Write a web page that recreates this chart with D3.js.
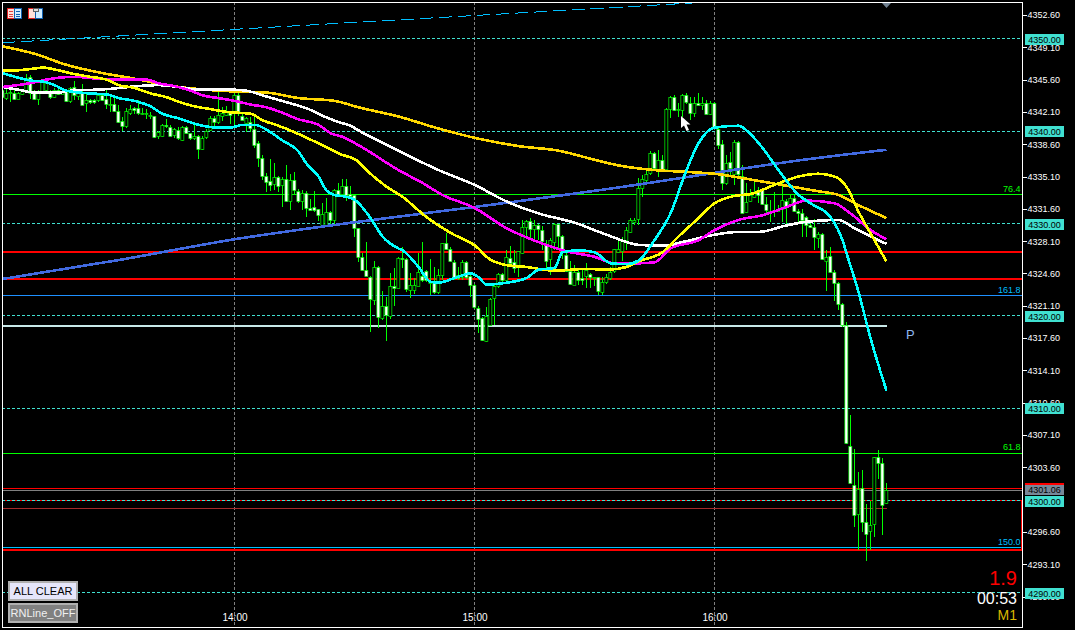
<!DOCTYPE html>
<html>
<head>
<meta charset="utf-8">
<title>M1 chart</title>
<script src="https://cdn.jsdelivr.net/npm/d3@7"></script>
<style>
  html, body { margin: 0; padding: 0; background: #000; }
  svg { display: block; }
  text { font-family: "Liberation Sans", Arial, sans-serif; }
</style>
</head>
<body>
<div id="chart"></div>
<script>
'use strict';

// one candle per minute, bar 0 = 13:02
const opens = [
  4344.5,4343.7,4344.2,4344.2,4343.5,4344.1,4344.5,4345.9,4344.4,4343.5,
  4344.3,4344.4,4344.4,4343.7,4344.5,4344.1,4344.3,4343.3,4344.8,4343.9,
  4344.2,4343.1,4343.4,4343.4,4343.4,4343.9,4343.5,4343.0,4343.0,4342.2,
  4341.1,4340.6,4342.0,4342.5,4342.5,4342.0,4342.0,4341.8,4341.7,4339.5,
  4339.5,4340.7,4340.5,4339.5,4340.1,4339.1,4340.5,4339.8,4339.3,4339.5,
  4338.1,4339.3,4340.1,4341.4,4341.0,4341.7,4341.8,4342.1,4342.1,4343.9,
  4341.7,4340.9,4341.0,4340.3,4338.7,4337.1,4335.2,4334.6,4334.2,4335.0,
  4334.1,4334.8,4332.4,4334.7,4333.5,4332.4,4333.3,4331.7,4331.8,4331.6,
  4329.8,4329.8,4331.3,4330.3,4333.6,4333.2,4334.1,4333.2,4333.1,4329.5,
  4326.4,4325.0,4324.2,4321.7,4325.3,4319.8,4321.1,4319.9,4323.2,4323.1,
  4326.3,4326.2,4322.9,4322.9,4323.3,4324.3,4324.9,4323.7,4323.6,4322.6,
  4324.4,4327.9,4327.2,4325.8,4324.4,4324.2,4325.8,4324.3,4323.3,4320.9,
  4319.8,4317.3,4319.0,4321.9,4323.2,4324.5,4323.9,4326.3,4325.8,4325.5,
  4326.8,4329.6,4330.3,4329.4,4329.8,4329.3,4327.7,4326.1,4328.1,4330.0,
  4328.7,4326.6,4324.9,4323.4,4324.8,4324.1,4324.4,4324.5,4324.2,4324.2,
  4322.6,4323.7,4324.1,4324.8,4326.9,4327.0,4328.2,4329.1,4330.2,4330.5,
  4333.8,4334.7,4335.4,4337.6,4335.9,4336.9,4335.9,4342.4,4343.7,4342.3,
  4342.3,4343.9,4343.1,4342.0,4343.1,4342.9,4343.1,4341.9,4343.1,4340.3,
  4338.6,4334.4,4336.7,4335.3,4338.8,4335.2,4331.2,4332.4,4332.9,4333.6,
  4333.6,4332.1,4331.4,4331.4,4331.4,4331.6,4332.5,4332.0,4332.8,4331.4,
  4331.2,4330.7,4329.8,4329.6,4328.5,4328.9,4326.0,4326.5,4324.8,4323.6,
  4321.3,4319.0,4305.9,4301.7,4298.6,4301.4,4297.7,4296.7,4297.4,4304.7,
  4304.1,4299.7
];
const highs = [
  4344.6,4344.6,4344.6,4344.5,4344.3,4344.5,4346.2,4346.1,4344.5,4344.5,
  4345.5,4345.5,4344.5,4344.7,4344.6,4344.6,4344.5,4344.8,4345.5,4344.5,
  4345.1,4344.2,4343.5,4343.5,4344.1,4344.1,4344.5,4343.7,4343.7,4342.9,
  4341.6,4342.5,4342.9,4342.6,4343.4,4342.5,4342.4,4342.1,4341.7,4340.0,
  4340.8,4341.3,4340.7,4340.4,4340.5,4340.6,4340.6,4339.8,4340.7,4339.6,
  4339.5,4340.2,4341.7,4341.7,4344.3,4342.6,4342.7,4342.2,4344.2,4344.2,
  4342.1,4341.6,4341.6,4341.6,4338.9,4337.4,4335.5,4337.0,4336.6,4335.2,
  4335.0,4336.3,4335.4,4335.6,4333.8,4333.6,4333.5,4332.7,4333.5,4331.6,
  4332.2,4332.8,4331.4,4333.7,4334.4,4334.8,4334.8,4334.1,4333.2,4329.5,
  4326.8,4328.0,4324.3,4325.9,4325.4,4322.7,4322.1,4324.7,4325.2,4326.4,
  4327.5,4326.3,4324.7,4324.1,4326.8,4328.0,4325.0,4326.2,4325.3,4325.1,
  4327.9,4329.0,4327.5,4326.1,4325.3,4326.1,4325.9,4324.4,4323.5,4321.1,
  4319.9,4321.0,4321.9,4323.5,4324.6,4324.6,4327.1,4327.6,4327.1,4327.0,
  4330.4,4330.4,4330.6,4330.4,4330.0,4329.7,4328.2,4328.4,4330.1,4330.0,
  4328.8,4327.0,4325.9,4325.5,4325.2,4325.0,4325.7,4324.6,4324.2,4324.2,
  4324.2,4324.5,4325.3,4327.3,4328.4,4328.6,4329.6,4330.6,4330.6,4334.9,
  4335.3,4335.9,4337.9,4337.8,4338.0,4337.4,4342.5,4343.8,4343.9,4343.1,
  4344.0,4344.2,4343.7,4343.7,4344.2,4343.7,4343.4,4343.3,4343.2,4340.5,
  4339.1,4337.4,4337.8,4339.1,4339.0,4336.3,4334.4,4333.8,4334.5,4334.0,
  4333.6,4332.9,4332.6,4333.4,4332.0,4334.4,4332.7,4333.2,4333.1,4331.6,
  4331.6,4330.8,4330.3,4330.5,4329.1,4329.0,4327.1,4327.5,4325.0,4323.7,
  4321.4,4319.3,4309.3,4305.6,4303.1,4303.3,4299.6,4299.9,4304.7,4305.5,
  4304.6,4301.9
];
const lows = [
  4343.7,4343.4,4343.2,4343.4,4343.5,4343.9,4344.1,4343.5,4343.4,4342.9,
  4344.1,4344.3,4343.5,4343.6,4343.9,4344.0,4343.2,4343.1,4343.4,4343.4,
  4342.8,4342.1,4343.0,4343.0,4343.2,4343.3,4342.4,4342.1,4342.1,4340.9,
  4340.0,4340.4,4341.8,4341.9,4341.8,4341.8,4341.3,4341.3,4339.3,4339.2,
  4339.4,4340.4,4339.5,4339.3,4339.1,4339.0,4339.7,4339.1,4339.1,4337.0,
  4338.0,4339.2,4340.0,4340.3,4340.8,4341.1,4341.7,4340.8,4340.5,4341.7,
  4341.2,4339.9,4339.9,4338.2,4336.1,4334.7,4333.4,4333.5,4333.6,4333.4,
  4331.8,4332.3,4331.5,4333.1,4332.2,4331.5,4330.7,4331.5,4331.3,4330.3,
  4329.7,4329.7,4329.8,4329.7,4332.9,4332.9,4332.5,4332.8,4328.5,4325.8,
  4325.0,4324.3,4318.3,4321.2,4318.7,4319.6,4317.3,4319.7,4321.1,4323.1,
  4325.2,4322.6,4321.9,4322.4,4323.2,4323.7,4323.7,4322.3,4322.4,4322.4,
  4323.9,4327.1,4325.8,4323.9,4323.9,4323.9,4324.0,4322.1,4320.8,4318.1,
  4317.3,4317.2,4319.0,4319.0,4323.0,4323.7,4323.7,4325.7,4324.6,4324.2,
  4326.7,4328.4,4328.4,4328.2,4328.2,4327.1,4325.0,4324.4,4327.1,4327.1,
  4326.2,4324.8,4323.3,4323.3,4323.3,4323.3,4323.0,4323.0,4323.2,4322.3,
  4322.3,4323.5,4323.9,4324.6,4326.8,4326.0,4327.1,4329.0,4329.8,4329.8,
  4332.9,4334.5,4335.3,4335.8,4335.0,4335.8,4335.9,4341.4,4342.2,4341.6,
  4341.6,4343.0,4341.2,4341.6,4342.8,4342.3,4341.9,4341.8,4340.3,4338.1,
  4333.6,4334.2,4335.3,4334.2,4335.1,4331.1,4331.1,4332.3,4332.8,4332.2,
  4332.0,4331.1,4330.2,4330.7,4331.3,4330.2,4330.0,4331.9,4331.3,4330.0,
  4328.5,4328.5,4329.5,4327.1,4327.4,4326.1,4322.7,4324.7,4321.6,4320.6,
  4318.8,4306.1,4301.9,4297.1,4294.6,4296.6,4293.4,4294.6,4296.1,4302.3,
  4296.3,4299.6
];
const closes = [
  4343.7,4344.2,4344.3,4343.5,4344.1,4344.5,4345.8,4344.2,4343.5,4344.2,
  4345.4,4345.2,4343.7,4344.5,4344.1,4344.4,4343.3,4344.7,4343.9,4344.2,
  4342.9,4343.4,4343.2,4343.2,4343.9,4343.4,4343.0,4343.0,4342.2,4341.0,
  4340.6,4342.2,4342.4,4342.3,4342.0,4342.0,4342.0,4341.8,4339.4,4339.9,
  4340.7,4340.6,4339.5,4340.2,4339.2,4340.5,4339.8,4339.3,4339.5,4338.1,
  4339.3,4340.0,4341.4,4341.0,4341.8,4342.0,4342.1,4341.8,4343.9,4342.1,
  4341.3,4341.4,4340.3,4338.6,4337.1,4335.2,4334.6,4334.2,4335.0,4334.0,
  4334.8,4332.4,4334.7,4333.6,4332.4,4333.3,4331.7,4331.5,4331.5,4331.0,
  4331.0,4331.3,4330.4,4333.6,4333.1,4334.1,4333.1,4333.0,4329.5,4326.4,
  4325.0,4324.4,4321.8,4325.3,4319.9,4321.1,4320.1,4323.2,4323.0,4326.3,
  4326.2,4322.9,4323.4,4323.4,4324.8,4323.9,4323.9,4323.7,4322.6,4324.4,
  4327.9,4327.2,4325.9,4324.2,4324.1,4325.8,4324.2,4323.3,4320.9,4319.7,
  4317.4,4320.0,4321.8,4323.2,4324.5,4323.9,4326.4,4325.8,4325.2,4327.0,
  4329.6,4330.3,4329.4,4329.8,4329.4,4328.1,4326.0,4328.2,4330.0,4328.7,
  4327.1,4324.9,4323.5,4324.8,4323.9,4323.9,4325.0,4324.2,4324.2,4322.7,
  4323.7,4324.2,4324.8,4327.2,4327.2,4328.2,4329.3,4330.4,4330.4,4333.9,
  4334.8,4335.4,4337.6,4336.0,4336.9,4335.9,4342.4,4343.7,4342.3,4342.4,
  4343.9,4343.1,4342.0,4343.1,4342.9,4343.1,4341.9,4343.1,4340.5,4338.6,
  4334.4,4336.6,4336.0,4338.8,4335.3,4331.2,4332.3,4333.1,4333.3,4333.1,
  4332.1,4331.4,4331.4,4331.5,4331.6,4332.6,4331.8,4332.8,4331.4,4331.2,
  4330.4,4329.8,4329.6,4328.5,4328.9,4326.2,4326.4,4324.8,4323.6,4321.3,
  4319.0,4306.2,4301.9,4298.5,4301.3,4297.7,4296.4,4297.4,4304.7,4304.1,
  4299.6,4301.1
];

// moving averages, read at the bars where they bend
const cyanBars = [0,4,7,10,13,16,22,26,29,33,37,40,44,49,54,57,60,63,67,70,74,76,79,81,83,86,88,92,95,99,100,104,107,109,113,117,119,121,126,131,134,138,140,144,148,152,156,159,163,167,171,174,178,184,186,190,194,199,202,207,210,211,214,217,221];
const cyanValues = [4346.3,4345.8,4345.5,4345.4,4345.0,4344.4,4344.1,4344.0,4343.6,4343.3,4342.7,4341.9,4341.4,4340.7,4340.4,4340.4,4340.7,4340.7,4339.9,4339.0,4337.8,4336.5,4335.1,4333.6,4333.1,4332.9,4332.6,4330.6,4328.6,4327.3,4327.1,4325.3,4323.7,4323.6,4324.1,4324.6,4324.2,4323.4,4323.6,4324.1,4325.0,4325.2,4326.9,4327.1,4326.9,4325.7,4325.6,4326.0,4328.2,4331.1,4335.8,4338.7,4340.4,4340.6,4340.1,4338.2,4335.8,4333.1,4332.2,4330.7,4328.2,4326.8,4322.6,4317.6,4311.9];
const yellowBars = [0,3,8,10,14,18,22,26,29,33,37,41,44,48,52,56,62,65,69,73,77,80,84,89,91,96,100,106,112,119,121,126,131,138,146,151,156,159,165,169,174,178,183,187,193,199,204,208,211,214,218,221];
const yellowValues = [4346.6,4346.6,4346.8,4346.9,4346.6,4346.2,4345.9,4345.6,4345.0,4344.7,4344.1,4343.7,4343.2,4342.7,4342.4,4342.1,4341.9,4341.2,4340.6,4339.9,4339.1,4338.5,4337.6,4336.7,4335.8,4334.0,4332.9,4330.7,4329.0,4327.3,4326.4,4325.5,4325.3,4324.9,4325.1,4325.0,4325.3,4325.9,4326.9,4328.6,4330.6,4332.2,4333.0,4333.2,4334.2,4335.1,4335.4,4335.1,4334.0,4331.3,4328.2,4325.9];
const magentaBars = [0,8,11,14,18,24,33,36,39,43,47,50,54,58,62,66,70,74,79,82,85,89,99,105,110,118,126,134,141,148,153,159,163,167,174,178,184,190,196,201,208,212,217,221];
const magentaValues = [4344.8,4345.3,4345.6,4345.8,4345.9,4345.7,4345.6,4345.6,4345.2,4344.9,4344.4,4343.9,4343.6,4343.3,4342.9,4342.6,4342.0,4341.3,4340.7,4339.8,4339.4,4338.5,4335.8,4334.4,4333.1,4331.7,4329.5,4328.0,4327.0,4326.4,4325.7,4325.7,4325.8,4327.3,4328.2,4329.3,4330.4,4330.9,4331.8,4332.5,4332.2,4331.1,4329.3,4328.3];
const whiteBars = [0,4,8,14,17,23,27,34,39,44,49,58,61,65,69,73,76,79,81,84,87,89,99,109,118,126,134,143,151,159,165,171,178,184,189,196,201,209,213,218,221];
const whiteValues = [4344.8,4344.5,4344.2,4344.2,4344.4,4344.5,4344.6,4344.9,4345.0,4344.8,4344.5,4344.5,4344.4,4343.9,4343.4,4342.9,4342.5,4341.9,4341.5,4341.0,4340.6,4340.1,4337.9,4335.8,4334.2,4332.4,4331.1,4330.1,4328.8,4327.7,4327.6,4328.1,4328.8,4329.1,4329.1,4329.8,4330.2,4330.4,4329.5,4328.4,4327.8];
const goldBars = [0,8,16,25,33,41,54,66,74,83,89,99,109,119,129,139,149,154,163,171,178,188,196,204,209,214,221];
const goldValues = [4349.2,4348.4,4347.2,4346.3,4345.7,4345.0,4344.4,4344.2,4343.6,4343.3,4342.6,4341.6,4340.3,4339.2,4338.4,4337.9,4336.8,4336.3,4335.8,4335.6,4335.4,4334.7,4334.1,4333.5,4333.1,4332.0,4330.6];
const blueBars = [0,29,58,89,118,160,178,200,221];
const blueValues = [4324.0,4326.05,4328.3,4330.2,4331.8,4334.3,4335.5,4336.9,4338.0];
const trendBars = [0,172.4];
const trendValues = [4349.6,4353.9];

const priceTicks = [4352.6,4349.1,4345.6,4342.1,4338.6,4335.1,4331.6,4328.1,4324.6,4321.1,4317.6,4314.1,4310.6,4307.1,4303.6,4296.6,4293.1,4289.6];
const hourBars = [58,118,178];
const hourLabels = ['14:00','15:00','16:00'];
const roundLevels = [4350,4340,4330,4320,4310,4300,4290];

const fibPrices = [4333.15,4322.2,4305.1,4294.9];
const fibLabels = ['76.4','161.8','61.8','150.0'];
const redThick = [4326.9,4324.0,4294.6];
const redThin = [4301.25,4300.0];
const bidPrice = 4301.06;
const pivotPrice = 4318.9;
const lowBandPrice = 4299.1;
const lastBar = 221;

(function () {
  const width = 1075;
  const height = 630;
  const left = 2;
  const right = 1022;
  const top = 2;
  const bottom = 627;

  const x = d3.scaleLinear().domain([0, lastBar]).range([2.5, 886.5]);
  const y = d3.scaleLinear().domain([4352.6, 4289.6]).range([15, 596.5]);

  const svg = d3.select('#chart').append('svg')
    .attr('width', width)
    .attr('height', height)
    .attr('viewBox', '0 0 ' + width + ' ' + height)
    .style('background', '#000');

  svg.append('defs').append('clipPath').attr('id', 'plot-clip')
    .append('rect').attr('x', left).attr('y', top).attr('width', right - left).attr('height', bottom - top);

  const plot = svg.append('g').attr('clip-path', 'url(#plot-clip)');

  function hline(price, color, w, dash, x2) {
    const yy = w % 2 ? Math.floor(y(price)) + 0.5 : Math.round(y(price));
    plot.append('line')
      .attr('x1', left).attr('x2', x2 === undefined ? right : x2)
      .attr('y1', yy).attr('y2', yy)
      .attr('stroke', color).attr('stroke-width', w)
      .attr('stroke-dasharray', dash || null)
      .attr('shape-rendering', 'crispEdges');
  }

  // vertical hour grid
  plot.selectAll('line.hour').data(hourBars).join('line')
    .attr('class', 'hour')
    .attr('x1', function (d) { return x(d); })
    .attr('x2', function (d) { return x(d); })
    .attr('y1', top).attr('y2', bottom)
    .attr('stroke', '#808080')
    .attr('stroke-dasharray', '3 2')
    .attr('shape-rendering', 'crispEdges');

  // horizontal levels, all under the candles
  redThick.forEach(function (p) { hline(p, '#ff0000', 2); });
  redThin.forEach(function (p) { hline(p, '#ff0000', 1); });
  roundLevels.forEach(function (p) { hline(p, '#40e0d0', 1, '3 2'); });
  hline(bidPrice, '#808080', 1);
  hline(lowBandPrice, '#a52a2a', 1, null, x(lastBar));
  hline(fibPrices[0], '#00ff00', 1);
  hline(fibPrices[1], '#1e90ff', 1);
  hline(fibPrices[2], '#00ff00', 1);
  hline(fibPrices[3], '#00bfff', 1);
  hline(pivotPrice, '#c8e8e8', 2, null, x(lastBar));

  plot.append('line')
    .attr('x1', right - 0.5).attr('x2', right - 0.5)
    .attr('y1', y(redThin[1])).attr('y2', y(redThick[2]))
    .attr('stroke', '#ff0000')
    .attr('shape-rendering', 'crispEdges');

  // candles: white body = down bar, black body = up bar
  const bars = d3.range(opens.length);
  const candle = plot.append('g').selectAll('g').data(bars).join('g');

  candle.append('line')
    .attr('x1', function (i) { return x(i); })
    .attr('x2', function (i) { return x(i); })
    .attr('y1', function (i) { return y(highs[i]); })
    .attr('y2', function (i) { return y(lows[i]); })
    .attr('stroke', '#00ff00')
    .attr('shape-rendering', 'crispEdges');

  candle.append('rect')
    .attr('x', function (i) { return x(i) - 1.65; })
    .attr('width', 3)
    .attr('y', function (i) { return Math.round(y(Math.max(opens[i], closes[i]))) + 0.5; })
    .attr('height', function (i) {
      return Math.max(1, Math.round(Math.abs(y(opens[i]) - y(closes[i]))));
    })
    .attr('fill', function (i) { return closes[i] < opens[i] ? '#ffffff' : '#000000'; })
    .attr('stroke', '#00ff00')
    .attr('stroke-width', 0.7);

  // moving averages on top
  function drawLine(barsIn, values, color, w) {
    const line = d3.line()
      .x(function (d) { return x(barsIn[d]); })
      .y(function (d) { return y(values[d]); })
      .curve(d3.curveMonotoneX);
    plot.append('path')
      .attr('d', line(d3.range(barsIn.length)))
      .attr('fill', 'none')
      .attr('stroke', color)
      .attr('stroke-width', w)
      .attr('shape-rendering', 'crispEdges');
  }

  plot.append('path')
    .attr('d', d3.line()
      .x(function (d) { return x(trendBars[d]); })
      .y(function (d) { return y(trendValues[d]); })(d3.range(trendBars.length)))
    .attr('fill', 'none')
    .attr('stroke', '#00bfff')
    .attr('stroke-dasharray', '13 6')
    .attr('shape-rendering', 'crispEdges');

  drawLine(blueBars, blueValues, '#4169e1', 2.6);
  drawLine(goldBars, goldValues, '#ffd700', 2.6);
  drawLine(whiteBars, whiteValues, '#ffffff', 2.6);
  drawLine(magentaBars, magentaValues, '#ff00ff', 2.6);
  drawLine(yellowBars, yellowValues, '#ffff00', 2.6);
  drawLine(cyanBars, cyanValues, '#00ffff', 2.6);

  // frame
  svg.append('rect')
    .attr('x', left + 0.5).attr('y', top + 0.5)
    .attr('width', right - left).attr('height', bottom - top)
    .attr('fill', 'none').attr('stroke', '#ffffff')
    .attr('shape-rendering', 'crispEdges');

  // price axis
  const priceAxis = d3.axisRight(y)
    .tickValues(priceTicks)
    .tickFormat(d3.format('.2f'))
    .tickSize(4)
    .tickPadding(1);
  const ga = svg.append('g').attr('transform', 'translate(' + (right + 0.5) + ',0)').call(priceAxis);
  ga.select('.domain').remove();
  ga.selectAll('line').attr('stroke', '#ffffff').attr('shape-rendering', 'crispEdges');
  ga.selectAll('text').attr('fill', '#ffffff').attr('font-size', 9).style('font-family', '"Liberation Sans", Arial, sans-serif');

  // time axis
  const timeAxis = d3.axisBottom(x)
    .tickValues(hourBars)
    .tickFormat(function (d) { return hourLabels[hourBars.indexOf(d)]; })
    .tickSize(0)
    .tickPadding(0);
  const gt = svg.append('g').attr('transform', 'translate(0,614)').call(timeAxis);
  gt.select('.domain').remove();
  gt.selectAll('text').attr('fill', '#ffffff').attr('font-size', 10).style('font-family', '"Liberation Sans", Arial, sans-serif');

  // right side price tags
  function tag(price, bg, fg, tagTop, tagHeight) {
    const yy = Math.round(y(price));
    const ty = tagTop === undefined ? yy - 5 : tagTop;
    const th = tagHeight || 11;
    svg.append('rect')
      .attr('x', 1025).attr('y', ty).attr('width', 39).attr('height', th)
      .attr('fill', bg);
    svg.append('text')
      .attr('x', 1044.5).attr('y', ty + th / 2 + 3.2)
      .attr('text-anchor', 'middle')
      .attr('font-size', 9)
      .attr('fill', fg)
      .text(d3.format('.2f')(price));
  }
  roundLevels.forEach(function (p) { tag(p, '#40e0d0', '#000000'); });
  tag(bidPrice, '#778899', '#000000', 485, 10);
  svg.append('rect')
    .attr('x', 1025).attr('y', 483).attr('width', 39).attr('height', 2)
    .attr('fill', '#ff0000');

  // fibo level captions
  svg.selectAll('text.fib').data(fibPrices).join('text')
    .attr('class', 'fib')
    .attr('x', 1020.5)
    .attr('y', function (d) { return y(d) - 3; })
    .attr('text-anchor', 'end')
    .attr('font-size', 9)
    .attr('fill', function (d, i) { return i === 0 || i === 2 ? '#00ff00' : '#00bfff'; })
    .text(function (d, i) { return fibLabels[i]; });

  // pivot letter
  svg.append('text').attr('x', 906).attr('y', 339).attr('font-size', 13).attr('fill', '#8fb8f0').text('P');

  // counters bottom right
  svg.append('text').attr('x', 1017).attr('y', 585).attr('text-anchor', 'end').attr('font-size', 20).attr('fill', '#ff0000').text('1.9');
  svg.append('text').attr('x', 1017).attr('y', 604).attr('text-anchor', 'end').attr('font-size', 16).attr('fill', '#ffffff').text('00:53');
  svg.append('text').attr('x', 1017).attr('y', 620).attr('text-anchor', 'end').attr('font-size', 14).attr('fill', '#d8b800').text('M1');

  // buttons
  function button(by, fill, fg, label) {
    svg.append('rect')
      .attr('x', 9).attr('y', by + 1).attr('width', 68).attr('height', 18)
      .attr('fill', fill).attr('stroke', '#b0b0b0').attr('stroke-width', 2)
      .attr('shape-rendering', 'crispEdges');
    svg.append('text')
      .attr('x', 43).attr('y', by + 14)
      .attr('text-anchor', 'middle')
      .attr('font-size', 11)
      .attr('fill', fg)
      .text(label);
  }
  button(581, '#e6e6fa', '#000000', 'ALL CLEAR');
  button(603, '#808080', '#f0f0f0', 'RNLine_OFF');

  // toolbar icons top left
  function icon(ix, colorA, colorB) {
    const g = svg.append('g').attr('shape-rendering', 'crispEdges');
    g.append('rect').attr('x', ix + 0.5).attr('y', 8.5).attr('width', 7).attr('height', 10).attr('fill', '#ffe0d8').attr('stroke', colorA);
    g.append('rect').attr('x', ix + 7.5).attr('y', 8.5).attr('width', 7).attr('height', 10).attr('fill', '#d0ecff').attr('stroke', colorB);
    return g;
  }
  const book = icon(7, '#e02020', '#1060b0');
  [11, 13.5, 16].forEach(function (ly) {
    book.append('rect').attr('x', 9).attr('y', ly).attr('width', 4).attr('height', 1).attr('fill', '#e04040');
    book.append('rect').attr('x', 16).attr('y', ly).attr('width', 4).attr('height', 1).attr('fill', '#1060b0');
  });
  const save = icon(28, '#e02020', '#1060b0');
  save.append('rect').attr('x', 33).attr('y', 8).attr('width', 5).attr('height', 3).attr('fill', '#e0e0e0').attr('stroke', '#606060');

  // chart shift marker and mouse pointer
  svg.append('path').attr('d', 'M882,3 L891,3 L886.5,8 Z').attr('fill', '#708090');
  svg.append('path').attr('d', 'M681,116 L681,128 L684,125.5 L686.5,131 L689,130 L686.5,124.5 L690.5,124.5 Z').attr('fill', '#ffffff');
})();
</script>
</body>
</html>
